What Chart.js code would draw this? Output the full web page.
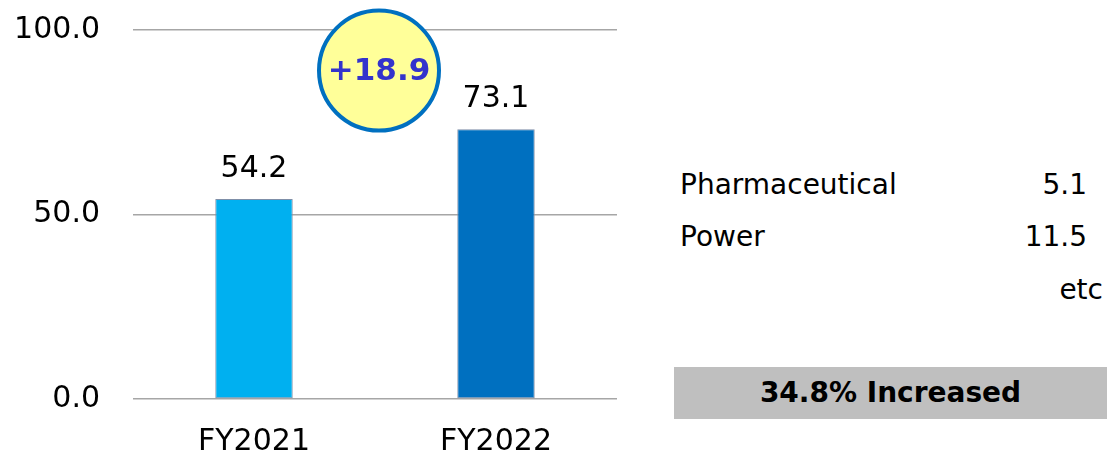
<!DOCTYPE html>
<html>
<head>
<meta charset="utf-8">
<script src="https://cdn.jsdelivr.net/npm/chart.js@4"></script>
<style>
  body { margin: 0; background: #fff; font-family: "DejaVu Sans", sans-serif; }
  #wrap { position: relative; width: 1107px; height: 455px; }
  #box { position: absolute; left: 0; top: 0; width: 640px; height: 455px; }
  .side { position: absolute; font-size: 28px; color: #000; }
  .num { position: absolute; font-size: 28px; text-align: right; }
  #band { position: absolute; left: 674px; top: 367px; width: 433px; height: 52px; background: #bfbfbf;
          font-weight: bold; font-size: 28px; line-height: 52px; text-align: center; }
</style>
</head>
<body>
<div id="wrap">
  <div id="box"><canvas id="salesChart" width="640" height="455"></canvas></div>
  <div class="side" style="left:680px; top:168px;">Pharmaceutical</div>
  <div class="num" style="right:20px; top:168px;">5.1</div>
  <div class="side" style="left:680px; top:220px;">Power</div>
  <div class="num" style="right:20px; top:220px;">11.5</div>
  <div class="num" style="right:4px; top:273px;">etc</div>
  <div id="band">34.8% Increased</div>
</div>
<script>
const years = ['FY2021', 'FY2022'];
const sales = [54.2, 73.1];
const barColors = ['#00b0f0', '#0070c0'];
const diffLabel = '+18.9';
const yTicks = [0, 50, 100];

Chart.defaults.font.family = '"DejaVu Sans", sans-serif';
Chart.defaults.font.size = 30;
Chart.defaults.color = '#000';

// value labels over the bars + the yellow badge in between
const extras = {
  id: 'extras',
  afterDatasetsDraw(chart) {
    const ctx = chart.ctx;
    const x = chart.scales.x, y = chart.scales.y;
    ctx.save();
    ctx.font = '30px "DejaVu Sans"';
    ctx.fillStyle = '#000';
    ctx.textAlign = 'center';
    ctx.textBaseline = 'bottom';
    chart.getDatasetMeta(0).data.forEach((bar, i) => {
      ctx.fillText(sales[i].toFixed(1), bar.x, bar.y - 15);
    });
    const cx = x.getPixelForValue(0.5) + 4;
    const cy = y.getPixelForValue(89);
    ctx.beginPath();
    ctx.arc(cx, cy, 60, 0, Math.PI * 2);
    ctx.fillStyle = '#ffff99';
    ctx.fill();
    ctx.lineWidth = 4;
    ctx.strokeStyle = '#0070c0';
    ctx.stroke();
    ctx.font = 'bold 31px "DejaVu Sans"';
    ctx.fillStyle = '#3333cc';
    ctx.textBaseline = 'middle';
    ctx.fillText(diffLabel, cx, cy + 1);
    ctx.restore();
  }
};

new Chart(document.getElementById('salesChart'), {
  type: 'bar',
  data: {
    labels: years,
    datasets: [{
      data: sales,
      backgroundColor: barColors,
      borderColor: '#7f8fa8',
      borderWidth: 1,
      borderSkipped: false,
      barPercentage: 0.64,
      categoryPercentage: 0.5
    }]
  },
  options: {
    responsive: false,
    animation: false,
    layout: { padding: { top: 30, right: 23, left: 0, bottom: 0 } },
    plugins: { legend: { display: false }, tooltip: { enabled: false } },
    scales: {
      y: {
        min: 0, max: 100,
        afterBuildTicks(s) { s.ticks = yTicks.map(v => ({ value: v })); },
        afterFit(s) { s.width = 133; s.paddingTop = 0; s.paddingBottom = 0; },
        border: { display: false },
        grid: { color: '#a6a6a6', lineWidth: 1.5, drawTicks: false },
        ticks: { padding: 33, callback: v => v.toFixed(1) }
      },
      x: {
        afterFit(s) { s.height = 56; s.paddingLeft = 0; s.paddingRight = 0; },
        border: { display: false },
        grid: { display: false },
        ticks: { padding: 17 }
      }
    }
  },
  plugins: [extras]
});
</script>
</body>
</html>
